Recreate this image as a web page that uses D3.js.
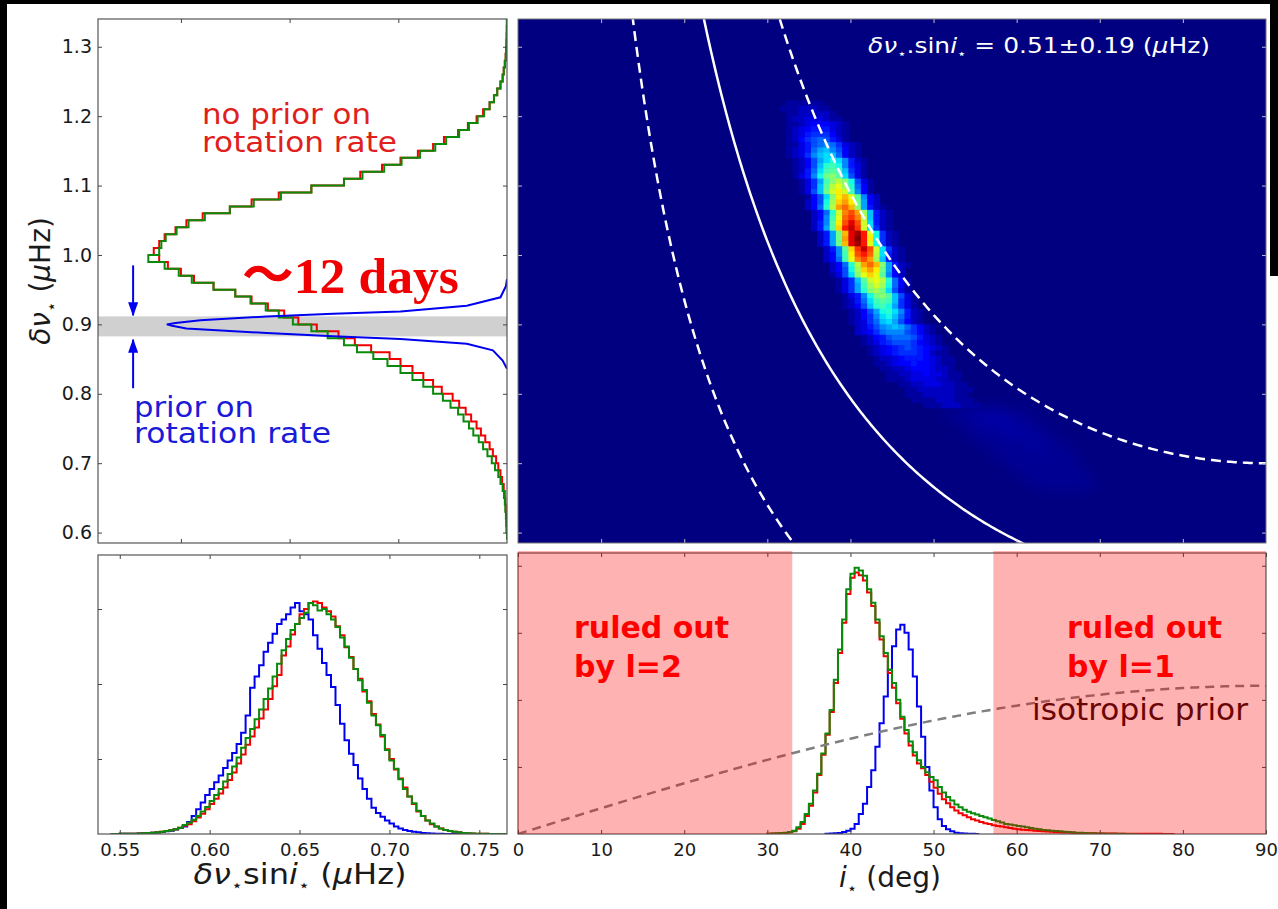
<!DOCTYPE html>
<html>
<head>
<meta charset="utf-8">
<script src="https://cdn.jsdelivr.net/npm/d3@7"></script>
<style>
  body { margin: 0; background: #fff; }
  svg { display: block; }
</style>
</head>
<body>
<div id="chart"></div>
<script>
// ---------------- data ----------------
// top-left: marginal of delta-nu, horizontal step histograms (bins of 0.01 starting at 0.59)
const dnuStart = 0.59, dnuWidth = 0.01;
const dnuRed = [0, .003, .005, .008, .012, .016, .02, .03, .045, .06,
  .08, .1, .13, .16, .2, .24, .28, .33, .38, .44,
  .5, .6, .68, .77, .87, .98, 1.08, 1.25, 1.4, 1.55,
  1.75, 1.92, 2.05, 2.2, 2.35, 2.5, 2.7, 2.88, 3.0, 3.12,
  3.2, 3.25, 3.2, 3.15, 3.05, 2.95, 2.8, 2.55, 2.35, 2.1,
  1.8, 1.5, 1.35, 1.15, .98, .82, .68, .58, .45, .36,
  .28, .22, .16, .12, .09, .06, .04, .03, .02, .012,
  .008, .005, .003, .002, .001];
const dnuGreen = [0, .004, .007, .01, .015, .02, .028, .04, .06, .08,
  .11, .14, .18, .22, .26, .31, .35, .4, .45, .52,
  .59, .68, .77, .87, .98, 1.1, 1.23, 1.38, 1.5, 1.65,
  1.8, 1.97, 2.1, 2.22, 2.36, 2.5, 2.7, 2.9, 3.02, 3.15,
  3.3, 3.2, 3.18, 3.14, 3.04, 2.93, 2.78, 2.55, 2.33, 2.08,
  1.8, 1.5, 1.33, 1.13, .97, .8, .66, .56, .44, .35,
  .27, .21, .16, .12, .09, .06, .04, .03, .02, .012,
  .008, .005, .003, .002, .001];
// blue: prior on rotation rate (finely binned, read as a curve)
const priorDnu   = [0.836, 0.848, 0.8625, 0.872, 0.879, 0.883, 0.8875, 0.894, 0.898, 0.900, 0.902, 0.9058, 0.9115, 0.9154, 0.9187, 0.927, 0.939, 0.955, 0.965];
const priorCount = [0.0, 0.04, 0.13, 0.37, 0.98, 1.6, 2.21, 2.95, 3.08, 3.13, 3.05, 2.82, 2.21, 1.6, 0.98, 0.37, 0.06, 0.01, 0.0];
const priorBand = [0.8827, 0.9115];
const priorArrows = [[3.44, 0.985, 0.913], [3.44, 0.808, 0.878]]; // count, from, to

// bottom-left: delta-nu * sin i (bins of 0.0025 starting at 0.545)
const vsStart = 0.545, vsWidth = 0.0025;
const vsBlue = [0, 0, .002, .003, .004, .005, .007, .009, .012, .016,
  .02, .028, .037, .045, .06, .08, .1, .16, .24, .33,
  .42, .52, .6, .69, .78, .88, .98, 1.08, 1.2, 1.35,
  1.58, 1.95, 2.1, 2.25, 2.43, 2.55, 2.67, 2.8, 2.86, 2.93,
  3.02, 3.08, 2.97, 2.93, 2.86, 2.65, 2.47, 2.28, 2.12, 1.96,
  1.72, 1.47, 1.25, 1.07, .92, .74, .6, .47, .35, .28,
  .23, .18, .14, .1, .075, .055, .04, .03, .022, .015,
  .01, .007, .004, .002, 0, 0, 0, 0, 0, 0,
  0, 0, 0, 0, 0, 0, 0, 0];
const vsRed = [0, .001, .002, .003, .004, .005, .007, .01, .013, .017,
  .022, .03, .04, .05, .065, .085, .11, .13, .17, .22,
  .27, .33, .4, .47, .54, .62, .72, .82, .94, 1.06,
  1.19, 1.3, 1.42, 1.54, 1.66, 1.8, 1.97, 2.12, 2.38, 2.5,
  2.66, 2.8, 2.93, 3.0, 3.08, 3.1, 3.08, 3.02, 2.97, 2.9,
  2.77, 2.65, 2.49, 2.36, 2.2, 2.07, 1.9, 1.77, 1.6, 1.46,
  1.3, 1.13, 1.0, .86, .74, .62, .5, .4, .3, .24,
  .18, .13, .1, .075, .055, .04, .03, .022, .015, .01,
  .007, .005, .003, .002, .001, 0, 0, 0];
const vsGreen = [0, .001, .002, .003, .004, .005, .007, .01, .013, .017,
  .022, .03, .04, .05, .065, .085, .12, .15, .19, .24,
  .3, .36, .44, .52, .6, .7, .8, .9, 1.02, 1.15,
  1.28, 1.4, 1.53, 1.66, 1.8, 1.94, 2.1, 2.27, 2.45, 2.6,
  2.72, 2.8, 2.88, 2.95, 3.08, 3.05, 2.98, 3.0, 2.93, 2.86,
  2.76, 2.62, 2.5, 2.35, 2.2, 2.05, 1.92, 1.75, 1.58, 1.45,
  1.32, 1.12, .98, .87, .73, .6, .5, .41, .31, .24,
  .18, .14, .1, .075, .055, .04, .03, .022, .015, .01,
  .007, .005, .003, .002, .001, 0, 0, 0];

// bottom-right: inclination (bins of 0.5 deg)
const incWidth = 0.5;
const incRedStart = 30;
const incRed = [.004, .006, .008, .01, .015, .025, .04, .08, .15, .27,
  .42, .62, .88, 1.18, 1.48, 1.82, 2.25, 2.7, 3.15, 3.58,
  3.82, 3.9, 3.86, 3.78, 3.6, 3.4, 3.15, 2.9, 2.65, 2.4,
  2.18, 1.95, 1.72, 1.5, 1.32, 1.17, 1.05, .98, .88, .78,
  .69, .6, .52, .46, .4, .35, .31, .28, .25, .22,
  .2, .18, .16, .15, .13, .12, .11, .1, .09, .08,
  .07, .065, .06, .055, .05, .045, .04, .036, .033, .03,
  .027, .024, .021, .018, .016, .014, .012, .011, .01, .009,
  .008, .007, .006, .006, .005, .005, .004, .004, .003, .003,
  .003, .002, .002, .002, .002, .001, .001, 0];
const incGreenStart = 30;
const incGreen = [.005, .008, .01, .015, .02, .03, .05, .1, .18, .3,
  .45, .65, .9, 1.2, 1.5, 1.85, 2.3, 2.75, 3.2, 3.65,
  3.88, 3.97, 3.93, 3.85, 3.65, 3.45, 3.2, 2.95, 2.7, 2.45,
  2.25, 2.0, 1.75, 1.55, 1.38, 1.22, 1.1, 1.0, .92, .85,
  .8, .7, .62, .55, .5, .44, .4, .36, .33, .31,
  .29, .27, .25, .23, .21, .19, .17, .15, .14, .13,
  .12, .11, .1, .09, .08, .07, .06, .055, .05, .045,
  .04, .035, .03, .025, .02, .017, .014, .012, .01, .008,
  .006, .005, .004, .003, .002, .002, .001, .001, 0];
const incBlueStart = 37;
const incBlue = [.005, .008, .01, .015, .03, .05, .08, .15, .3, .45,
  .7, .95, 1.3, 1.65, 2.05, 2.45, 2.8, 3.05, 3.12, 3.0,
  2.75, 2.35, 1.9, 1.45, 1.0, .65, .4, .22, .12, .07,
  .04, .02, .01, .006, .003, .002, 0];
const ruledOut = [[0, 33], [57.2, 90]];
const isoPriorAmp = 2.21;

// top-right: 2D histogram, rows = [lower delta-nu edge, first i edge, levels base-36 (0..z -> 0..1)]
const cellDi = 0.75, cellDnu = 0.0075;
const heatRows = [
  [1.215, 30.0, "0001111110000"], [1.2075, 30.0, "0011122211000"],
  [1.2, 30.75, "0011222221000"], [1.1925, 30.75, "0012233321100"],
  [1.185, 31.5, "0112344432100"], [1.1775, 31.5, "0123455532100"],
  [1.17, 31.5, "0123566642100"], [1.1625, 31.5, "0124678753100"],
  [1.155, 32.25, "1135789863210"], [1.1475, 32.25, "12358ab974210"],
  [1.14, 32.25, "12369bcb84210"], [1.1325, 33.0, "1247acdc95210"],
  [1.125, 33.0, "1247befd95310"], [1.1175, 33.0, "1258cfgfb6310"],
  [1.11, 33.0, "1359dhigc7310"], [1.1025, 33.75, "136afikid7310"],
  [1.095, 33.75, "136bgkmje8410"], [1.0875, 33.75, "137bhlnlf9410"],
  [1.08, 34.5, "147cinpmg9420"], [1.0725, 34.5, "247djoqnha420"],
  [1.065, 34.5, "248ekqspia521"], [1.0575, 35.25, "248elrtqjb521"],
  [1.05, 35.25, "249fmsurkb521"], [1.0425, 35.25, "259gntwtlc521"],
  [1.035, 35.25, "25agovxulc621"], [1.0275, 36.0, "25ahpwyvmd621"],
  [1.02, 36.0, "25ahqwzvnd621"], [1.0125, 36.0, "25ahpwyvmd621"],
  [1.005, 36.75, "259gouxtlc621"], [0.9975, 36.75, "249fntvskc521"],
  [0.99, 36.75, "248fmrtqjb521"], [0.9825, 37.5, "248ekqspia521"],
  [0.975, 37.5, "247djoqnha420"], [0.9675, 37.5, "137cimomg9420"],
  [0.96, 38.25, "136bglmke8410"], [0.9525, 38.25, "136afjljd8410"],
  [0.945, 38.25, "136aeijhc7310"], [0.9375, 39.0, "1359dhigb7310"],
  [0.93, 39.0, "1258cfgfb6310"], [0.9225, 39.0, "1247befda6310"],
  [0.915, 39.75, "1247adec95210"], [0.9075, 39.75, "12469cdb85210"],
  [0.9, 39.75, "12368bca74210"], [0.8925, 40.5, "23579aba86421"],
  [0.885, 40.5, "2346899976421"], [0.8775, 41.25, "1245788875321"],
  [0.87, 41.25, "1235677764321"], [0.8625, 42.0, "1234567654321"],
  [0.855, 42.0, "1234566654211"], [0.8475, 42.75, "1223455543211"],
  [0.84, 42.75, "1123445443211"], [0.8325, 43.5, "1122344432210"],
  [0.825, 44.25, "1122334332110"], [0.8175, 44.25, "1112333322110"],
  [0.81, 45.0, "0112233322110"], [0.8025, 45.75, "0112222221110"],
  [0.795, 45.75, "0111222221100"], [0.7875, 46.5, "0111122211100"],
  [0.78, 47.25, "0011122211100"]
];
// faint diffuse tail (coarser cells, drawn blurred and dimmed)
const tailDi = 1.5, tailDnu = 0.015;
const heatTail = [
  [0.765, 51.0, "1122211"], [0.75, 52.5, "1122211"], [0.735, 54.0, "1112211"],
  [0.72, 55.5, "1111211"], [0.705, 57.0, "1111111"], [0.69, 58.5, "111111"],
  [0.675, 60.0, "111111"], [0.66, 62.0, "11111"]
];
const vsiniFit = 0.51, vsiniErr = 0.19;

// tick values
const dnuTicks = [0.6, 0.7, 0.8, 0.9, 1.0, 1.1, 1.2, 1.3];
const countTicks = [1, 2, 3];
const vsTicks = [0.55, 0.60, 0.65, 0.70, 0.75];
const blYTicks = [1, 2, 3];
const incTicks = [0, 10, 20, 30, 40, 50, 60, 70, 80, 90];
const brYTicks = [1, 2, 3, 4];

// ---------------- layout ----------------
const W = 1278, H = 909;
const TL = {x0: 98, x1: 507, y0: 19, y1: 543};
const TR = {x0: 518, x1: 1266, y0: 19, y1: 543};
const BL = {x0: 98, x1: 507, y0: 555, y1: 834};
const BR = {x0: 518, x1: 1266, y0: 553, y1: 834};

const dnuY = d3.scaleLinear().domain([0.585, 1.34]).range([TL.y1, TL.y0]);
const countX = d3.scaleLinear().domain([3.763, 0]).range([TL.x0, TL.x1]);
const incX = d3.scaleLinear().domain([0, 90]).range([TR.x0, TR.x1]);
const vsX = d3.scaleLinear().domain([0.5379, 0.7654]).range([BL.x0, BL.x1]);
const blY = d3.scaleLinear().domain([0, 3.72]).range([BL.y1, BL.y0]);
const brY = d3.scaleLinear().domain([0, 4.19]).range([BR.y1, BR.y0]);

const RED = "#f00000", GREEN = "#0a8a0a", BLUE = "#0000f0";
const FONT = "DejaVu Sans, sans-serif";

const svg = d3.select("#chart").append("svg").attr("width", W).attr("height", H);
svg.append("rect").attr("width", W).attr("height", H).attr("fill", "#fff");
const defs = svg.append("defs");

function clip(id, p, pad) {
  defs.append("clipPath").attr("id", id).append("rect")
    .attr("x", p.x0).attr("y", p.y0 - pad).attr("width", p.x1 - p.x0).attr("height", p.y1 - p.y0 + pad);
}
clip("cTL", TL, 0); clip("cTR", TR, 0); clip("cBL", BL, 0); clip("cBR", BR, 3);

function steps(start, width, vals) {
  const pts = [[start, 0]];
  vals.forEach((v, k) => { pts.push([start + k * width, v], [start + (k + 1) * width, v]); });
  pts.push([start + vals.length * width, 0]);
  return pts;
}

function axis(gen, x, y, color, size) {
  const a = svg.append("g").attr("transform", `translate(${x},${y})`).call(gen);
  a.select(".domain").remove();
  a.selectAll("line").attr("stroke", color).attr("stroke-width", 1);
  a.selectAll("text").attr("font-family", FONT).attr("font-size", size).attr("fill", "#1a1a1a");
  return a;
}

function rich(sel, parts, size) {
  let off = 0;
  parts.forEach(([t, s]) => {
    const ts = sel.append("tspan").text(t);
    const target = s === "sub" ? size * 0.25 : 0;
    if (target !== off) { ts.attr("dy", target - off); off = target; }
    if (s === "i") ts.attr("font-style", "italic");
    if (s === "sub") ts.attr("font-size", size * 0.6);
  });
  return sel;
}

// ---------------- top-left panel ----------------
const gTL = svg.append("g").attr("clip-path", "url(#cTL)");
gTL.append("rect").attr("x", TL.x0).attr("width", TL.x1 - TL.x0)
  .attr("y", dnuY(priorBand[1])).attr("height", dnuY(priorBand[0]) - dnuY(priorBand[1]))
  .attr("fill", "#d0d0d0");
const hLine = d3.line().x(d => countX(d[1])).y(d => dnuY(d[0]));
gTL.append("path").attr("d", hLine(steps(dnuStart, dnuWidth, dnuRed)))
  .attr("fill", "none").attr("stroke", RED).attr("stroke-width", 2);
gTL.append("path").attr("d", hLine(steps(dnuStart, dnuWidth, dnuGreen)))
  .attr("fill", "none").attr("stroke", GREEN).attr("stroke-width", 2);
gTL.append("path").attr("d", hLine(priorDnu.map((d, k) => [d, priorCount[k]])))
  .attr("fill", "none").attr("stroke", BLUE).attr("stroke-width", 2);

defs.append("marker").attr("id", "arrow").attr("viewBox", "0 0 14 10")
  .attr("refX", 13).attr("refY", 5).attr("markerWidth", 14).attr("markerHeight", 10)
  .attr("markerUnits", "userSpaceOnUse").attr("orient", "auto")
  .append("path").attr("d", "M0,0L14,5L0,10Z").attr("fill", BLUE);
priorArrows.forEach(([c, from, to]) => {
  svg.append("line").attr("x1", countX(c)).attr("x2", countX(c))
    .attr("y1", dnuY(from)).attr("y2", dnuY(to))
    .attr("stroke", BLUE).attr("stroke-width", 2).attr("marker-end", "url(#arrow)");
});

svg.append("text").attr("x", 202).attr("y", 124).attr("font-family", FONT).attr("font-size", 29)
  .attr("fill", "#e0201c").attr("textLength", 169).attr("lengthAdjust", "spacingAndGlyphs").text("no prior on");
svg.append("text").attr("x", 202).attr("y", 152).attr("font-family", FONT).attr("font-size", 29)
  .attr("fill", "#e0201c").attr("textLength", 195).attr("lengthAdjust", "spacingAndGlyphs").text("rotation rate");
svg.append("text").attr("x", 134).attr("y", 417).attr("font-family", FONT).attr("font-size", 29)
  .attr("fill", "#1a1ad8").attr("textLength", 120).attr("lengthAdjust", "spacingAndGlyphs").text("prior on");
svg.append("text").attr("x", 134).attr("y", 443).attr("font-family", FONT).attr("font-size", 29)
  .attr("fill", "#1a1ad8").attr("textLength", 197).attr("lengthAdjust", "spacingAndGlyphs").text("rotation rate");

const days = svg.append("text").attr("x", 242).attr("y", 293)
  .attr("font-family", "Liberation Serif, serif").attr("font-weight", "bold").attr("font-size", 51)
  .attr("fill", "#f00000").attr("textLength", 217).attr("lengthAdjust", "spacingAndGlyphs");
days.append("tspan").attr("font-family", "Noto Sans CJK JP").text("〜");
days.append("tspan").text("12 days");

svg.append("rect").attr("x", TL.x0).attr("y", TL.y0).attr("width", TL.x1 - TL.x0).attr("height", TL.y1 - TL.y0)
  .attr("fill", "none").attr("stroke", "#555").attr("stroke-width", 1.2);
axis(d3.axisLeft(dnuY).tickValues(dnuTicks).tickSize(-4).tickPadding(6).tickFormat(d3.format(".1f")), TL.x0, 0, "#444", 19);
axis(d3.axisRight(dnuY).tickValues(dnuTicks).tickSize(-4).tickFormat(""), TL.x1, 0, "#444", 19);
axis(d3.axisBottom(countX).tickValues(countTicks).tickSize(-4).tickFormat(""), 0, TL.y1, "#444", 19);
axis(d3.axisTop(countX).tickValues(countTicks).tickSize(-4).tickFormat(""), 0, TL.y0, "#444", 19);

rich(svg.append("text").attr("transform", "translate(50,281) rotate(-90)")
  .attr("text-anchor", "middle").attr("font-family", FONT).attr("font-size", 28).attr("fill", "#1a1a1a"),
  [["δν", "i"], ["⋆", "sub"], [" (", ""], ["μ", "i"], ["Hz)", ""]], 28);

// ---------------- top-right heatmap ----------------
const jetR = d3.scaleLinear().domain([0, .35, .66, .89, 1]).range([0, 0, 1, 1, .5]).clamp(true);
const jetG = d3.scaleLinear().domain([0, .125, .375, .64, .91, 1]).range([0, 0, 1, 1, 0, 0]).clamp(true);
const jetB = d3.scaleLinear().domain([0, .11, .34, .65, 1]).range([.5, 1, 1, 0, 0]).clamp(true);
const jet = t => d3.rgb(255 * jetR(t), 255 * jetG(t), 255 * jetB(t)).toString();

function toCells(rows, di, dn) {
  const cells = [];
  rows.forEach(([lo, i0, lev]) => {
    [...lev].forEach((ch, j) => {
      const t = parseInt(ch, 36) / 35;
      if (t > 0) cells.push({i0: i0 + j * di, i1: i0 + (j + 1) * di, n0: lo, n1: lo + dn, t});
    });
  });
  return cells;
}

const gTR = svg.append("g").attr("clip-path", "url(#cTR)");
gTR.append("rect").attr("x", TR.x0).attr("y", TR.y0).attr("width", TR.x1 - TR.x0).attr("height", TR.y1 - TR.y0)
  .attr("fill", jet(0));

defs.append("filter").attr("id", "blurTail").attr("x", "-50%").attr("y", "-50%").attr("width", "200%").attr("height", "200%")
  .append("feGaussianBlur").attr("stdDeviation", 7);
defs.append("filter").attr("id", "blurSoft")
  .append("feGaussianBlur").attr("stdDeviation", 0.5);

gTR.append("g").attr("filter", "url(#blurTail)").attr("opacity", 0.6)
  .selectAll("rect").data(toCells(heatTail, tailDi, tailDnu)).join("rect")
  .attr("x", d => incX(d.i0)).attr("width", d => incX(d.i1) - incX(d.i0))
  .attr("y", d => dnuY(d.n1)).attr("height", d => dnuY(d.n0) - dnuY(d.n1))
  .attr("fill", d => jet(d.t));
gTR.append("g").attr("filter", "url(#blurSoft)")
  .selectAll("rect").data(toCells(heatRows, cellDi, cellDnu)).join("rect")
  .attr("x", d => incX(d.i0)).attr("width", d => incX(d.i1) - incX(d.i0) + 0.6)
  .attr("y", d => dnuY(d.n1)).attr("height", d => dnuY(d.n0) - dnuY(d.n1) + 0.6)
  .attr("fill", d => jet(d.t));

const contour = c => d3.range(4, 90.001, 0.25).map(i => [i, c / Math.sin(i * Math.PI / 180)]);
const cLine = d3.line().x(d => incX(d[0])).y(d => dnuY(Math.min(d[1], 1.6)));
[[vsiniFit - vsiniErr, "10,6"], [vsiniFit, null], [vsiniFit + vsiniErr, "10,6"]].forEach(([c, dash]) => {
  gTR.append("path").attr("d", cLine(contour(c))).attr("fill", "none")
    .attr("stroke", "#fff").attr("stroke-width", 2.5).attr("stroke-dasharray", dash);
});

rich(svg.append("text").attr("x", 868).attr("y", 53).attr("font-family", FONT).attr("font-size", 21)
  .attr("fill", "#fff").attr("textLength", 342).attr("lengthAdjust", "spacingAndGlyphs"),
  [["δν", "i"], ["⋆", "sub"], [".sin", ""], ["i", "i"], ["⋆", "sub"], [" = 0.51±0.19 (", ""], ["μ", "i"], ["Hz)", ""]], 21);

axis(d3.axisLeft(dnuY).tickValues(dnuTicks).tickSize(-4).tickFormat(""), TR.x0, 0, "#c0c0d0", 19);
axis(d3.axisRight(dnuY).tickValues(dnuTicks).tickSize(-4).tickFormat(""), TR.x1, 0, "#c0c0d0", 19);
axis(d3.axisBottom(incX).tickValues(incTicks.slice(1, -1)).tickSize(-4).tickFormat(""), 0, TR.y1, "#c0c0d0", 19);
axis(d3.axisTop(incX).tickValues(incTicks.slice(1, -1)).tickSize(-4).tickFormat(""), 0, TR.y0, "#c0c0d0", 19);
svg.append("rect").attr("x", TR.x0).attr("y", TR.y0).attr("width", TR.x1 - TR.x0).attr("height", TR.y1 - TR.y0)
  .attr("fill", "none").attr("stroke", "#777").attr("stroke-width", 1);

// ---------------- bottom-left panel ----------------
const gBL = svg.append("g").attr("clip-path", "url(#cBL)");
const blLine = d3.line().x(d => vsX(d[0])).y(d => blY(d[1]));
[[vsBlue, BLUE], [vsRed, RED], [vsGreen, GREEN]].forEach(([vals, col]) => {
  gBL.append("path").attr("d", blLine(steps(vsStart, vsWidth, vals)))
    .attr("fill", "none").attr("stroke", col).attr("stroke-width", 2);
});
svg.append("rect").attr("x", BL.x0).attr("y", BL.y0).attr("width", BL.x1 - BL.x0).attr("height", BL.y1 - BL.y0)
  .attr("fill", "none").attr("stroke", "#555").attr("stroke-width", 1.2);
axis(d3.axisBottom(vsX).tickValues(vsTicks).tickSize(-4).tickPadding(9).tickFormat(d3.format(".2f")), 0, BL.y1, "#444", 18);
axis(d3.axisTop(vsX).tickValues(vsTicks).tickSize(-4).tickFormat(""), 0, BL.y0, "#444", 18);
axis(d3.axisLeft(blY).tickValues(blYTicks).tickSize(-4).tickFormat(""), BL.x0, 0, "#444", 18);
axis(d3.axisRight(blY).tickValues(blYTicks).tickSize(-4).tickFormat(""), BL.x1, 0, "#444", 18);
rich(svg.append("text").attr("x", 300).attr("y", 884).attr("text-anchor", "middle")
  .attr("font-family", FONT).attr("font-size", 28).attr("fill", "#1a1a1a")
  .attr("textLength", 213).attr("lengthAdjust", "spacingAndGlyphs"),
  [["δν", "i"], ["⋆", "sub"], ["sin", ""], ["i", "i"], ["⋆", "sub"], [" (", ""], ["μ", "i"], ["Hz)", ""]], 28);

// ---------------- bottom-right panel ----------------
const gBR = svg.append("g").attr("clip-path", "url(#cBR)");
const brLine = d3.line().x(d => incX(d[0])).y(d => brY(d[1]));
[[incBlueStart, incBlue, BLUE], [incRedStart, incRed, RED], [incGreenStart, incGreen, GREEN]].forEach(([s, vals, col]) => {
  gBR.append("path").attr("d", brLine(steps(s, incWidth, vals)))
    .attr("fill", "none").attr("stroke", col).attr("stroke-width", 2);
});
gBR.append("path")
  .attr("d", brLine(d3.range(0, 90.001, 0.5).map(i => [i, isoPriorAmp * Math.sin(i * Math.PI / 180)])))
  .attr("fill", "none").attr("stroke", "#808080").attr("stroke-width", 2.5).attr("stroke-dasharray", "9,6");

svg.append("rect").attr("x", BR.x0).attr("y", BR.y0).attr("width", BR.x1 - BR.x0).attr("height", BR.y1 - BR.y0)
  .attr("fill", "none").attr("stroke", "#555").attr("stroke-width", 1.2);
axis(d3.axisBottom(incX).tickValues(incTicks).tickSize(-4).tickPadding(9).tickFormat(d3.format("d")), 0, BR.y1, "#444", 18);
axis(d3.axisTop(incX).tickValues(incTicks).tickSize(-4).tickFormat(""), 0, BR.y0, "#444", 18);
axis(d3.axisLeft(brY).tickValues(brYTicks).tickSize(-4).tickFormat(""), BR.x0, 0, "#444", 18);
axis(d3.axisRight(brY).tickValues(brYTicks).tickSize(-4).tickFormat(""), BR.x1, 0, "#444", 18);

svg.append("text").attr("x", 1032).attr("y", 720).attr("font-family", FONT).attr("font-size", 30)
  .attr("fill", "#2a0808").attr("textLength", 216).attr("lengthAdjust", "spacingAndGlyphs").text("isotropic prior");

svg.append("g").selectAll("rect").data(ruledOut).join("rect")
  .attr("x", d => incX(d[0])).attr("width", d => incX(d[1]) - incX(d[0]))
  .attr("y", BR.y0 - 2).attr("height", BR.y1 - BR.y0 + 2)
  .attr("fill", "#ff0000").attr("fill-opacity", 0.3);

[[574, "2"], [1067, "1"]].forEach(([x, l]) => {
  svg.append("text").attr("x", x).attr("y", 638).attr("font-family", FONT).attr("font-weight", "bold")
    .attr("font-size", 30).attr("fill", "#ff0000").attr("textLength", 155).attr("lengthAdjust", "spacingAndGlyphs")
    .text("ruled out");
  svg.append("text").attr("x", x).attr("y", 677).attr("font-family", FONT).attr("font-weight", "bold")
    .attr("font-size", 30).attr("fill", "#ff0000").text("by l=" + l);
});

rich(svg.append("text").attr("x", 890).attr("y", 887).attr("text-anchor", "middle")
  .attr("font-family", FONT).attr("font-size", 28).attr("fill", "#1a1a1a"),
  [["i", "i"], ["⋆", "sub"], [" (deg)", ""]], 28);

// ---------------- black border of the slide ----------------
svg.append("rect").attr("x", 0).attr("y", 0).attr("width", W).attr("height", 4).attr("fill", "#000");
svg.append("rect").attr("x", 0).attr("y", 0).attr("width", 7).attr("height", H).attr("fill", "#000");
svg.append("rect").attr("x", 1270).attr("y", 0).attr("width", 8).attr("height", 276).attr("fill", "#000");
</script>
</body>
</html>
